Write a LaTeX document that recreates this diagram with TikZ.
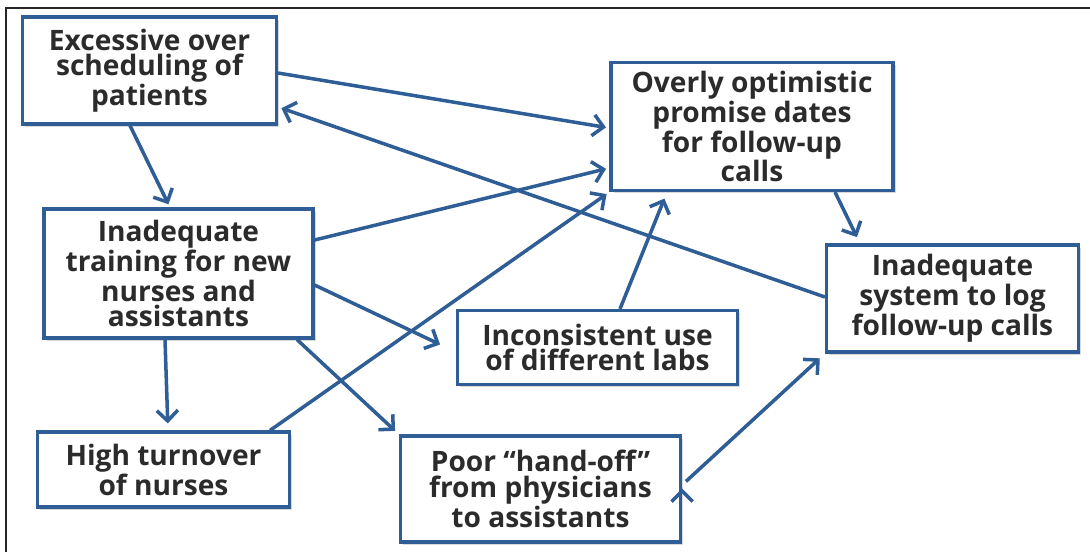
\documentclass[tikz,border=0pt]{standalone}
\usepackage{fontspec}
\setmainfont{Open Sans}
\usepackage{tikz}
\usetikzlibrary{arrows.meta,shadows}

\definecolor{causeblue}{HTML}{2F5E96}
\definecolor{causetext}{HTML}{2B2B2B}

\begin{document}
\begin{tikzpicture}[x=0.02cm,y=-0.02cm]
	\tikzset{cause/.style={draw=causeblue,line width=1.8pt,fill=white,text=causetext,
		font=\fontsize{16}{14.6}\selectfont\bfseries,align=center,inner sep=0pt,
		drop shadow={shadow xshift=1.5pt,shadow yshift=-1.5pt,opacity=0.3}},
		link/.style={->,draw=causeblue,line width=2pt,shorten >=2pt},
		>={Straight Barb[length=6pt,width=12pt]}}
	\useasboundingbox (0,0) rectangle (1090,552);

	%% frame
	\draw[line width=0.8pt,black!85] (1090,8) -- (6,8) -- (6,552);

	%% causes
	\node[cause,minimum width=5.08cm,minimum height=2.14cm] (excess) at (149.5,70.5) {Excessive over\\scheduling of\\patients};
	\node[cause,minimum width=5.64cm,minimum height=2.56cm] (promise) at (752,126.5) {Overly optimistic\\promise dates\\for follow-up\\calls};
	\node[cause,minimum width=5.38cm,minimum height=2.58cm] (training) at (178.5,273.5) {Inadequate\\training for new\\nurses and\\assistants};
	\node[cause,minimum width=5.04cm,minimum height=2.14cm] (logsys) at (952.5,298.5) {Inadequate\\system to log\\follow-up calls};
	\node[cause,minimum width=5.6cm,minimum height=1.48cm] (labs) at (597.5,347.5) {Inconsistent use\\of different labs};
	\node[cause,minimum width=5.04cm,minimum height=1.5cm] (turnover) at (163.5,469.5) {High turnover\\of nurses};
	\node[cause,minimum width=5.6cm,minimum height=2.12cm] (handoff) at (540.5,489) {Poor ``hand-off''\\from physicians\\to assistants};

	%% links
	\path[link]
		(excess.south -| 130,0) edge (training.north -| 170,0)
		(excess.east |- 0,73) edge (promise.west |- 0,128)
		(logsys.west |- 0,297) edge (excess.east |- 0,107)
		(training.east |- 0,240) edge (promise.west |- 0,168)
		(training.east |- 0,285) edge[shorten >=10pt] (labs.west |- 0,352)
		(training.south -| 165,0) edge[shorten >=4pt] (turnover.north -| 168,0)
		(training.south -| 297,0) edge[shorten >=3pt] (handoff.north west)
		(turnover.north -| 270,0) edge (promise.south west)
		(labs.north -| 620,0) edge[shorten >=4pt] (promise.south -| 667,0)
		(promise.south -| 835,0) edge[shorten >=4pt] (logsys.north -| 860,0)
		(handoff.east |- 0,485) edge[shorten <=3pt,shorten >=4pt] (logsys.south west);
\end{tikzpicture}
\end{document}
